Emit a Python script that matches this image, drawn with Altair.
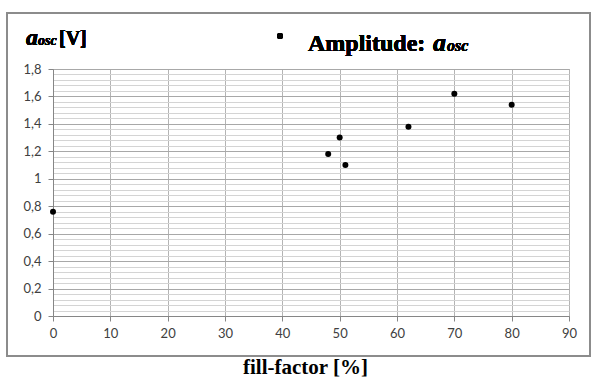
import altair as alt
import pandas as pd

# data
fill_factor = [0, 48, 50, 51, 62, 70, 80]
amplitude = [0.76, 1.18, 1.30, 1.10, 1.38, 1.62, 1.54]

x_ticks = [0, 10, 20, 30, 40, 50, 60, 70, 80, 90]
y_ticks = [round(i * 0.04, 2) for i in range(46)]

df = pd.DataFrame({"ff": fill_factor, "amp": amplitude})

W, H = 516, 247
LABEL_FONT = "Lato"
SERIF = "Liberation Serif"

major_test = "abs(datum.value*5 - round(datum.value*5)) < 0.001"

points = alt.Chart(df).mark_point(filled=True, size=36, color="black", opacity=1).encode(
    x=alt.X("ff:Q",
            scale=alt.Scale(domain=[0, 90], nice=False, zero=False),
            axis=alt.Axis(values=x_ticks, title="fill-factor [%]",
                          titleFont=SERIF, titleFontSize=21, titleFontWeight="bold",
                          titleColor="black", titlePadding=16, titleX=252, titleAlign="center",
                          labelFont=LABEL_FONT, labelFontSize=13, labelColor="#404040",
                          labelPadding=6, tickSize=5, tickColor="#868686",
                          domainColor="#868686", gridColor="#b4b4b4",
                          labelFlush=False)),
    y=alt.Y("amp:Q",
            scale=alt.Scale(domain=[0, 1.8], nice=False, zero=True),
            axis=alt.Axis(values=y_ticks, title=None,
                          labelExpr="(abs(datum.value*5 - round(datum.value*5)) < 0.001) ? replace(format(datum.value, '.1~f'), '.', ',') : ''",
                          labelFont=LABEL_FONT, labelFontSize=13, labelColor="#404040",
                          labelPadding=7, tickSize=5,
                          tickColor={"condition": {"test": major_test, "value": "#868686"}, "value": "transparent"},
                          gridColor={"condition": {"test": major_test, "value": "#a8a8a8"}, "value": "#d4d4d4"},
                          domainColor="#868686", labelFlush=False)),
)

frame = alt.Chart(df).mark_rect(fill=None, stroke="#8c8c8c", strokeWidth=1.5).encode(
    x=alt.value(-46), x2=alt.value(537), y=alt.value(-56), y2=alt.value(287)
)

ylab_a = alt.Chart(df).mark_text(text="a", font=SERIF, fontSize=24, fontWeight="bold",
                                  fontStyle="italic", align="left", baseline="alphabetic").encode(
    x=alt.value(-27), y=alt.value(-24))
ylab_osc = alt.Chart(df).mark_text(text="osc", font=SERIF, fontSize=14, fontWeight="bold",
                                    fontStyle="italic", align="left", baseline="alphabetic").encode(
    x=alt.value(-15), y=alt.value(-24))
ylab_v = alt.Chart(df).mark_text(text="[V]", font=SERIF, fontSize=20, fontWeight="bold",
                                  align="left", baseline="alphabetic").encode(
    x=alt.value(6), y=alt.value(-24))

leg_dot = alt.Chart(df).mark_point(filled=True, size=36, color="black", opacity=1).encode(
    x=alt.value(227), y=alt.value(-33))
leg_text = alt.Chart(df).mark_text(text="Amplitude:", font=SERIF, fontSize=24, fontWeight="bold",
                                    align="left", baseline="alphabetic").encode(
    x=alt.value(255), y=alt.value(-18))
leg_a = alt.Chart(df).mark_text(text="a", font=SERIF, fontSize=26, fontWeight="bold",
                                 fontStyle="italic", align="left", baseline="alphabetic").encode(
    x=alt.value(380), y=alt.value(-18))
leg_osc = alt.Chart(df).mark_text(text="osc", font=SERIF, fontSize=16, fontWeight="bold",
                                   fontStyle="italic", align="left", baseline="alphabetic").encode(
    x=alt.value(394), y=alt.value(-18))

chart = alt.layer(frame, points, ylab_a, ylab_osc, ylab_v, leg_dot, leg_text, leg_a, leg_osc).properties(
    width=W, height=H,
    autosize=alt.AutoSizeParams(type="none"),
    padding={"left": 53, "top": 69, "right": 23, "bottom": 64},
    background="white",
).configure_view(stroke="#a8a8a8", strokeWidth=1)

chart.save("out.html", embed_options={"renderer": "svg", "actions": False})
